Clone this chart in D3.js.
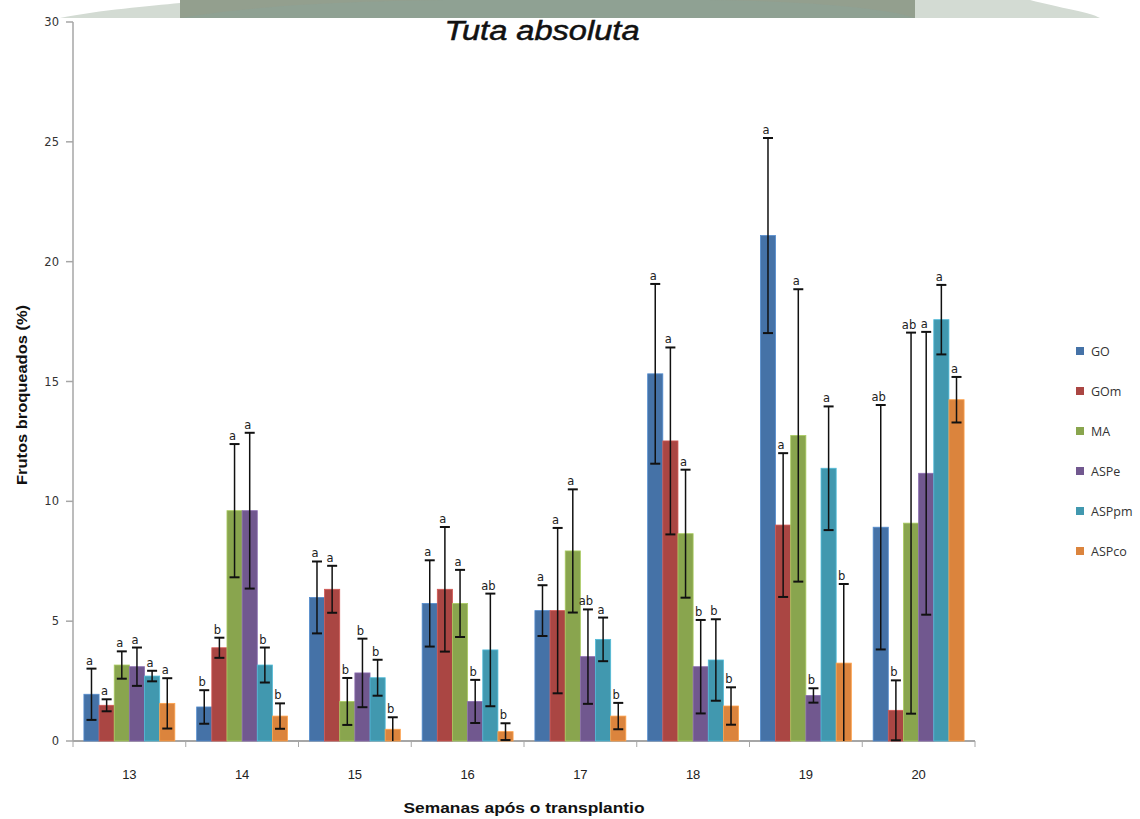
<!DOCTYPE html>
<html>
<head>
<meta charset="utf-8">
<script src="https://cdn.jsdelivr.net/npm/d3@7"></script>
<style>
  html, body { margin: 0; padding: 0; background: #fff; }
  svg { display: block; }
</style>
</head>
<body>
<div id="chart"></div>
<script>
'use strict';

// ─── Data ───────────────────────────────────────────────────────────────────
const weeks  = ['13', '14', '15', '16', '17', '18', '19', '20'];
const series = ['GO', 'GOm', 'MA', 'ASPe', 'ASPpm', 'ASPco'];
const colors = ['#4572a7', '#aa4643', '#89a54e', '#71588f', '#4198af', '#db843d'];
const yTicks = [0, 5, 10, 15, 20, 25, 30];

const meanGO    = [1.95, 1.42, 5.99, 5.74, 5.44, 15.32, 21.09, 8.92];
const meanGOm   = [1.49, 3.89, 6.33, 6.33, 5.44, 12.52, 9.01, 1.28];
const meanMA    = [3.17, 9.61, 1.65, 5.74, 7.93, 8.65, 12.75, 9.09];
const meanASPe  = [3.10, 9.61, 2.84, 1.65, 3.52, 3.10, 1.90, 11.17];
const meanASPpm = [2.71, 3.17, 2.64, 3.80, 4.24, 3.38, 11.38, 17.58];
const meanASPco = [1.57, 1.04, 0.49, 0.39, 1.04, 1.46, 3.25, 14.24];

const errGO    = [1.07, 0.70, 1.50, 1.80, 1.06, 3.75, 4.07, 5.10];
const errGOm   = [0.25, 0.42, 0.98, 2.60, 3.45, 3.90, 3.00, 1.25];
const errMA    = [0.57, 2.78, 0.98, 1.40, 2.57, 2.67, 6.10, 7.95];
const errASPe  = [0.80, 3.25, 1.43, 0.90, 1.97, 1.95, 0.30, 5.90];
const errASPpm = [0.22, 0.73, 0.75, 2.35, 0.91, 1.70, 2.58, 1.45];
const errASPco = [1.05, 0.53, 0.50, 0.35, 0.55, 0.78, 3.30, 0.95];

const letGO    = ['a', 'b', 'a', 'a', 'a', 'a', 'a', 'ab'];
const letGOm   = ['a', 'b', 'a', 'a', 'a', 'a', 'a', 'b'];
const letMA    = ['a', 'a', 'b', 'a', 'a', 'a', 'a', 'ab'];
const letASPe  = ['a', 'a', 'b', 'b', 'ab', 'b', 'b', 'a'];
const letASPpm = ['a', 'b', 'b', 'ab', 'a', 'b', 'a', 'a'];
const letASPco = ['a', 'b', 'b', 'b', 'b', 'b', 'b', 'a'];

const means   = [meanGO, meanGOm, meanMA, meanASPe, meanASPpm, meanASPco];
const errs    = [errGO, errGOm, errMA, errASPe, errASPpm, errASPco];
const letters = [letGO, letGOm, letMA, letASPe, letASPpm, letASPco];

// ─── Setup ──────────────────────────────────────────────────────────────────
const W = 1140, H = 819;
const svg = d3.select('#chart').append('svg')
    .attr('width', W).attr('height', H)
    .attr('viewBox', '0 0 ' + W + ' ' + H);

// watermark band at the top of the page scan
const wm = svg.append('g');
wm.append('path')
    .attr('d', 'M60,18 C100,10 150,6 180,3 L180,0 L1030,0 C1060,8 1090,12 1100,18 Z')
    .attr('fill', '#d3dbd3');
wm.append('path')
    .attr('d', 'M180,18 L180,0 L915,0 L915,18 Z')
    .attr('fill', '#8fa193');
wm.append('path')
    .attr('d', 'M180,18 C260,4 380,0 470,0 L180,0 Z')
    .attr('fill', '#9c9a88').attr('opacity', 0.35);
wm.append('path')
    .attr('d', 'M690,0 C780,0 880,6 915,18 L915,0 Z')
    .attr('fill', '#9c9a88').attr('opacity', 0.35);

const x0 = d3.scaleBand().domain(weeks).range([73, 975]).padding(0);
const x1 = d3.scaleBand().domain(series).range([0, x0.bandwidth()])
    .paddingInner(0).paddingOuter(0.72);
const y  = d3.scaleLinear().domain([0, 30]).range([741, 22]);

// ─── Axes ───────────────────────────────────────────────────────────────────
const axisCol = '#a6a6a6';

const yAxis = svg.append('g');
yAxis.append('line')
    .attr('x1', 73).attr('x2', 73).attr('y1', y(30)).attr('y2', y(0))
    .attr('stroke', axisCol).attr('stroke-width', 1.5);
yAxis.selectAll('.yt').data(yTicks).enter().append('line')
    .attr('x1', 66).attr('x2', 73)
    .attr('y1', function (d) { return y(d); })
    .attr('y2', function (d) { return y(d); })
    .attr('stroke', axisCol).attr('stroke-width', 1.5);
yAxis.selectAll('.yl').data(yTicks).enter().append('text')
    .attr('x', 59)
    .attr('y', function (d) { return y(d) + 4; })
    .attr('text-anchor', 'end')
    .attr('font-family', 'DejaVu Sans, sans-serif')
    .attr('font-size', 11.5)
    .attr('fill', '#333')
    .text(function (d) { return d; });

const xAxis = svg.append('g');
xAxis.append('line')
    .attr('x1', 73).attr('x2', 975).attr('y1', y(0)).attr('y2', y(0))
    .attr('stroke', axisCol).attr('stroke-width', 2);
const bounds = weeks.map(function (w) { return x0(w); }).concat([x0(weeks[weeks.length - 1]) + x0.bandwidth()]);
xAxis.selectAll('.xt').data(bounds).enter().append('line')
    .attr('x1', function (d) { return d; })
    .attr('x2', function (d) { return d; })
    .attr('y1', y(0)).attr('y2', y(0) + 6)
    .attr('stroke', axisCol).attr('stroke-width', 1);
xAxis.selectAll('.xl').data(weeks).enter().append('text')
    .attr('x', function (d) { return x0(d) + x0.bandwidth() / 2; })
    .attr('y', 779)
    .attr('text-anchor', 'middle')
    .attr('font-family', 'Liberation Sans, Arial, sans-serif')
    .attr('font-size', 13)
    .attr('fill', '#222')
    .text(function (d) { return d; });

// ─── Bars, error bars, letters ──────────────────────────────────────────────
series.forEach(function (s, si) {
    const g = svg.append('g');
    const rows = weeks.map(function (w, wi) {
        return { week: w, v: means[si][wi], e: errs[si][wi], l: letters[si][wi] };
    });

    g.selectAll('rect').data(rows).enter().append('rect')
        .attr('x', function (d) { return x0(d.week) + x1(s); })
        .attr('y', function (d) { return y(d.v); })
        .attr('width', x1.bandwidth())
        .attr('height', function (d) { return y(0) - y(d.v); })
        .attr('fill', colors[si])
        .attr('stroke', d3.color(colors[si]).brighter(0.6))
        .attr('stroke-width', 0.8);

    const cx = function (d) { return x0(d.week) + x1(s) + x1.bandwidth() / 2; };
    const hi = function (d) { return y(d.v + d.e); };
    const lo = function (d) { return y(Math.max(0, d.v - d.e)); };

    g.selectAll('.eb').data(rows).enter().append('line')
        .attr('x1', cx).attr('x2', cx).attr('y1', hi).attr('y2', lo)
        .attr('stroke', '#111').attr('stroke-width', 1.5);
    g.selectAll('.ct').data(rows).enter().append('line')
        .attr('x1', function (d) { return cx(d) - 5; })
        .attr('x2', function (d) { return cx(d) + 5; })
        .attr('y1', hi).attr('y2', hi)
        .attr('stroke', '#111').attr('stroke-width', 2);
    g.selectAll('.cb').data(rows.filter(function (d) { return d.v - d.e > 0; })).enter().append('line')
        .attr('x1', function (d) { return cx(d) - 5; })
        .attr('x2', function (d) { return cx(d) + 5; })
        .attr('y1', lo).attr('y2', lo)
        .attr('stroke', '#111').attr('stroke-width', 2);

    g.selectAll('text').data(rows).enter().append('text')
        .attr('x', function (d) { return cx(d) - 2; })
        .attr('y', function (d) { return hi(d) - 4; })
        .attr('text-anchor', 'middle')
        .attr('font-family', 'DejaVu Sans, sans-serif')
        .attr('font-size', 11.5)
        .attr('fill', '#222')
        .text(function (d) { return d.l; });
});

// ─── Titles ─────────────────────────────────────────────────────────────────
svg.append('text')
    .attr('x', 542).attr('y', 40)
    .attr('text-anchor', 'middle')
    .attr('font-family', 'Liberation Sans, Arial, sans-serif')
    .attr('font-style', 'italic')
    .attr('font-size', 27)
    .attr('stroke', '#111').attr('stroke-width', 0.5)
    .attr('textLength', 195).attr('lengthAdjust', 'spacingAndGlyphs')
    .attr('fill', '#111')
    .text('Tuta absoluta');

svg.append('text')
    .attr('transform', 'translate(27,395) rotate(-90)')
    .attr('text-anchor', 'middle')
    .attr('font-family', 'Liberation Sans Narrow, Liberation Sans, Arial, sans-serif')
    .attr('font-weight', 'bold')
    .attr('font-size', 15)
    .attr('textLength', 180).attr('lengthAdjust', 'spacingAndGlyphs')
    .attr('fill', '#111')
    .text('Frutos broqueados (%)');

svg.append('text')
    .attr('x', 524).attr('y', 813)
    .attr('text-anchor', 'middle')
    .attr('font-family', 'Liberation Sans Narrow, Liberation Sans, Arial, sans-serif')
    .attr('font-weight', 'bold')
    .attr('font-size', 15)
    .attr('textLength', 241).attr('lengthAdjust', 'spacingAndGlyphs')
    .attr('fill', '#111')
    .text('Semanas após o transplantio');

// ─── Legend ─────────────────────────────────────────────────────────────────
const leg = svg.append('g');
leg.selectAll('rect').data(series).enter().append('rect')
    .attr('x', 1076)
    .attr('y', function (d, i) { return 347 + i * 40; })
    .attr('width', 8).attr('height', 8)
    .attr('fill', function (d, i) { return colors[i]; });
leg.selectAll('text').data(series).enter().append('text')
    .attr('x', 1091)
    .attr('y', function (d, i) { return 356 + i * 40; })
    .attr('font-family', 'Open Sans, Noto Sans, sans-serif')
    .attr('font-size', 12.5)
    .attr('fill', '#333')
    .text(function (d) { return d; });
</script>
</body>
</html>
